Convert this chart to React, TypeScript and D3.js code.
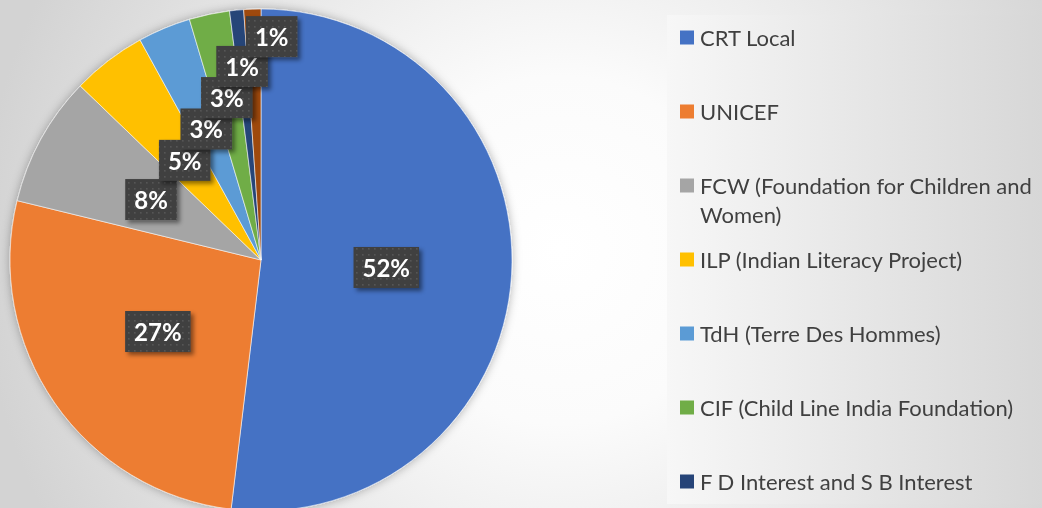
import React from 'react';
import * as d3 from 'd3';

const categories = [
  'CRT Local',
  'UNICEF',
  'FCW (Foundation for Children and Women)',
  'ILP (Indian Literacy Project)',
  'TdH (Terre Des Hommes)',
  'CIF (Child Line India Foundation)',
  'F D Interest and S B Interest',
  'Others',
];
const values = [51.9, 26.9, 8.4, 4.8, 3.4, 2.6, 0.9, 1.1];
const colors = ['#4472C4', '#ED7D31', '#A5A5A5', '#FFC000', '#5B9BD5', '#70AD47', '#264478', '#9E480E'];

const W = 1042;
const H = 508;
const cx = 261;
const cy = 260;
const R = 251;

const LABEL_FONT = 'bold 24px Lato';
const LEGEND_FONT_SIZE = 22;
const LEGEND_FONT = `${LEGEND_FONT_SIZE}px Lato`;

let ctx: CanvasRenderingContext2D | null = null;
function measure(text: string, font: string) {
  if (!ctx) ctx = document.createElement('canvas').getContext('2d');
  if (!ctx) return text.length * 11;
  ctx.font = font;
  return ctx.measureText(text).width;
}

function wrap(text: string, maxW: number) {
  const words = text.split(' ');
  const lines: string[] = [];
  let cur = '';
  words.forEach((w) => {
    const t = cur ? cur + ' ' + w : w;
    if (measure(t, LEGEND_FONT) > maxW && cur) {
      lines.push(cur);
      cur = w;
    } else cur = t;
  });
  if (cur) lines.push(cur);
  return lines;
}

type Lab = { x: number; y: number; w: number; h: number; text: string };

const MIN_DY = 31;

function collider(labels: Lab[], x: number, y: number, w: number): Lab | null {
  for (let k = labels.length - 1; k >= 0; k--) {
    const p = labels[k];
    if (Math.abs(p.y - y) < MIN_DY && Math.abs(p.x - x) < (p.w + w) / 2) return p;
  }
  return null;
}

export default function App() {
  const pie = d3.pie<number>().sort(null).value((d) => d);
  const arcs = pie(values);
  const arcGen = d3.arc<d3.PieArcDatum<number>>().innerRadius(0).outerRadius(R);
  const total = d3.sum(values);

  const labels: Lab[] = [];
  arcs.forEach((a) => {
    const mid = (a.startAngle + a.endAngle) / 2;
    const sx = Math.sin(mid);
    const sy = -Math.cos(mid);
    const text = Math.round((a.value / total) * 100) + '%';
    const w = measure(text, LABEL_FONT) + 18;
    const h = 41;
    const maxRad = R * 0.89;
    let rad = R * 0.5;
    let x = cx + rad * sx;
    let y = cy + rad * sy;
    while (collider(labels, x, y, w) && rad < maxRad) {
      rad += 0.5;
      x = cx + rad * sx;
      y = cy + rad * sy;
    }
    const c = collider(labels, x, y, w);
    if (c) {
      x = Math.max(x, c.x + (c.w + w) / 2 - 22);
    }
    labels.push({ x, y, w, h, text });
  });

  const legendX = 680;
  const legendTop = 37.5;
  const legendPitch = 74;
  const legendLine = 29;

  return (
    <svg width={W} height={H} style={{ position: 'fixed', left: 0, top: 0, display: 'block' }}>
      <defs>
        <radialGradient id="bg" gradientUnits="userSpaceOnUse" cx={560} cy={250} r={580}>
          <stop offset="0" stopColor="#ffffff" />
          <stop offset="0.3" stopColor="#fbfbfb" />
          <stop offset="1" stopColor="#d3d3d3" />
        </radialGradient>
        <linearGradient id="legbg" gradientUnits="userSpaceOnUse" x1={667} y1={0} x2={1042} y2={0}>
          <stop offset="0" stopColor="#f7f7f7" />
          <stop offset="1" stopColor="#d7d7d7" />
        </linearGradient>
        <filter id="pieShadow" x="-20%" y="-20%" width="140%" height="140%">
          <feDropShadow dx="0" dy="0" stdDeviation="5" floodColor="#000" floodOpacity="0.3" />
        </filter>
        <filter id="boxShadow" x="-30%" y="-30%" width="160%" height="160%">
          <feDropShadow dx="3" dy="3" stdDeviation="2" floodColor="#000" floodOpacity="0.45" />
        </filter>
        <pattern id="dots" width="6" height="6" patternUnits="userSpaceOnUse">
          <rect width="6" height="6" fill="#404040" />
          <rect x="2" y="2" width="1.6" height="1.6" fill="#575757" />
        </pattern>
      </defs>
      <rect x={0} y={0} width={W} height={H} fill="url(#bg)" />
      <rect x={667} y={15} width={W - 667} height={489} fill="url(#legbg)" />

      <g filter="url(#pieShadow)">
        {arcs.map((a, i) => (
          <path
            key={i}
            d={arcGen(a) || ''}
            transform={`translate(${cx},${cy})`}
            fill={colors[i]}
            stroke="#ffffff"
            strokeOpacity={0.7}
            strokeWidth={0.8}
          />
        ))}
      </g>

      {labels.map((l, i) => (
        <g key={i}>
          <rect
            x={l.x - l.w / 2}
            y={l.y - l.h / 2}
            width={l.w}
            height={l.h}
            fill="url(#dots)"
            filter="url(#boxShadow)"
          />
          <text
            x={l.x}
            y={l.y}
            textAnchor="middle"
            dominantBaseline="central"
            fill="#ffffff"
            style={{ font: LABEL_FONT }}
          >
            {l.text}
          </text>
        </g>
      ))}

      <g>
        {categories.map((c, i) => {
          const y0 = legendTop + i * legendPitch;
          if (y0 + 10 > H) return null; // clipped by the legend area, as in the original
          const lines = wrap(c, 1037 - (legendX + 20));
          return (
            <g key={i}>
              <rect x={legendX} y={y0 - 7} width={14} height={14} fill={colors[i]} />
              {lines.map((ln, j) => (
                <text
                  key={j}
                  x={legendX + 20}
                  y={y0 + j * legendLine}
                  dominantBaseline="central"
                  fill="#404040"
                  style={{ font: LEGEND_FONT }}
                >
                  {ln}
                </text>
              ))}
            </g>
          );
        })}
      </g>
    </svg>
  );
}
